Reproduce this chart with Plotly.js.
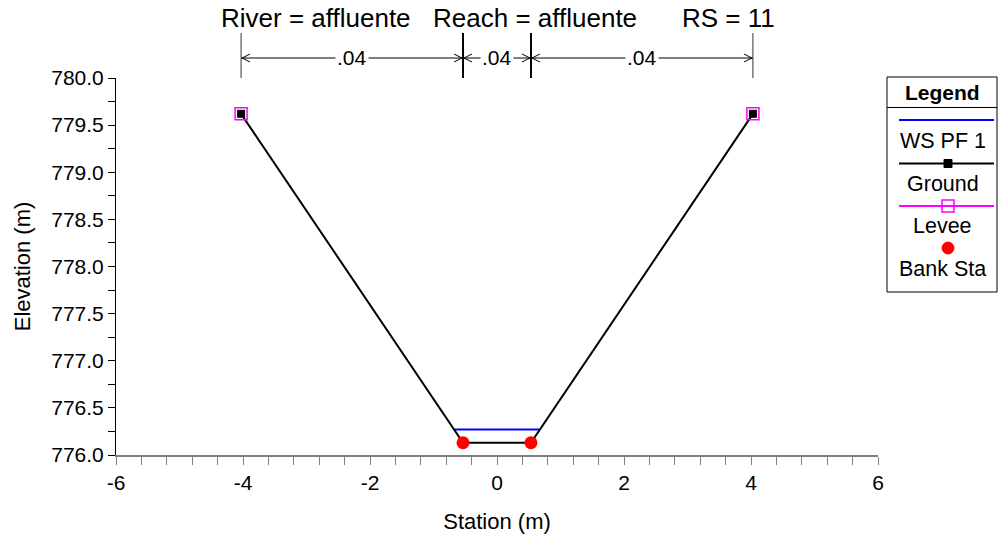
<!DOCTYPE html>
<html>
<head>
<meta charset="utf-8">
<script src="https://cdn.plot.ly/plotly-3.0.1.min.js"></script>
<style>html,body{margin:0;padding:0;background:#fff;}#chart{width:999px;height:535px;}</style>
</head>
<body>
<div id="chart"></div>
<script>
// ---- data ----
const titleParts = ['River = affluente', 'Reach = affluente', 'RS = 11'];
const wsX = [-0.67, 0.67];
const wsY = [776.27, 776.27];
const groundX = [-4.03, -0.535, 0.535, 4.03];
const groundY = [779.62, 776.13, 776.13, 779.62];
const leveeX = [-4.03, 4.03];
const leveeY = [779.62, 779.62];
const bankX = [-0.535, 0.535];
const bankY = [776.13, 776.13];
const nStations = [-4.03, -0.535, 0.535, 4.03];
const nValues = ['.04', '.04', '.04'];
const legendNames = ['WS PF 1', 'Ground', 'Levee', 'Bank Sta'];
const xTickVals = [-6, -4, -2, 0, 2, 4, 6];
const xTickText = ['-6', '-4', '-2', '0', '2', '4', '6'];
const xTitle = 'Station (m)';
const yTitle = 'Elevation (m)';

// ---- layout helpers ----
const W = 999, H = 535;
const M = {l: 116, r: 121, t: 78, b: 80};
const pw = W - M.l - M.r, ph = H - M.t - M.b;
const px = x => (x - M.l) / pw;
const py = y => (H - M.b - y) / ph;
const FONT = 'Arial, "Liberation Sans", sans-serif';

const traces = [
  {x: wsX, y: wsY, mode: 'lines', name: legendNames[0], line: {color: '#0000ff', width: 2}},
  {x: groundX, y: groundY, mode: 'lines+markers', name: legendNames[1], line: {color: '#000', width: 2},
   marker: {symbol: 'square', size: 8, color: '#000'}},
  {x: leveeX, y: leveeY, mode: 'markers', name: legendNames[2],
   marker: {symbol: 'square-open', size: 12, color: '#ff00ff', line: {width: 1.5}}},
  {x: bankX, y: bankY, mode: 'markers', name: legendNames[3],
   marker: {symbol: 'circle', size: 13, color: '#ff0000'}}
];

const shapes = [];
const annotations = [];

// title parts
const titleCenters = [316, 535, 728];
titleParts.forEach((t, i) => annotations.push({
  xref: 'paper', yref: 'paper', x: px(titleCenters[i]), y: py(18), text: t, showarrow: false,
  xanchor: 'center', yanchor: 'middle', font: {family: FONT, size: 26, color: '#000'}
}));

// roughness row
const arrowY = py(58);
nStations.forEach((s, i) => {
  const bank = (i > 0 && i < nStations.length - 1);
  shapes.push({type: 'line', xref: 'x', yref: 'paper', x0: s, x1: s, y0: py(78), y1: py(33),
    line: {color: bank ? '#000' : '#333', width: bank ? 2 : 1}});
});
nValues.forEach((v, i) => {
  const a = nStations[i], b = nStations[i + 1];
  shapes.push({type: 'line', xref: 'x', yref: 'paper', x0: a, x1: b, y0: arrowY, y1: arrowY,
    line: {color: '#000', width: 1}});
  shapes.push({type: 'path', xref: 'x', yref: 'paper', xsizemode: 'pixel', ysizemode: 'pixel',
    xanchor: a, yanchor: arrowY, path: 'M9,-4 L1,0 L9,4', line: {color: '#000', width: 1}});
  shapes.push({type: 'path', xref: 'x', yref: 'paper', xsizemode: 'pixel', ysizemode: 'pixel',
    xanchor: b, yanchor: arrowY, path: 'M-9,-4 L-1,0 L-9,4', line: {color: '#000', width: 1}});
  annotations.push({xref: 'x', yref: 'paper', x: (a + b) / 2, y: arrowY, text: v, showarrow: false,
    xanchor: 'center', yanchor: 'middle', bgcolor: '#fff', borderpad: 1,
    font: {family: FONT, size: 21, color: '#000'}});
});

// custom legend
const LX0 = 887, LX1 = 997, LT = 77, LB = 292;
const LC = (LX0 + LX1) / 2 + 1;
shapes.push({type: 'rect', xref: 'paper', yref: 'paper', x0: px(LX0), x1: px(LX1), y0: py(LB), y1: py(LT),
  line: {color: '#000', width: 1}, fillcolor: 'rgba(0,0,0,0)'});
shapes.push({type: 'line', xref: 'paper', yref: 'paper', x0: px(LX0), x1: px(LX1), y0: py(107.5), y1: py(107.5),
  line: {color: '#000', width: 1}});
annotations.push({xref: 'paper', yref: 'paper', x: px(LC), y: py(92), text: '<b>Legend</b>', showarrow: false,
  xanchor: 'center', yanchor: 'middle', font: {family: FONT, size: 21, color: '#000'}});
const sampleY = [120, 163.5, 206, 248];
const labelY = [141, 184, 226, 269];
const sampleColors = ['#0000ff', '#000', '#ff00ff', null];
sampleY.forEach((yy, i) => {
  if (sampleColors[i]) {
    shapes.push({type: 'line', xref: 'paper', yref: 'paper', x0: px(899), x1: px(994), y0: py(yy), y1: py(yy),
      line: {color: sampleColors[i], width: 2}});
  }
  annotations.push({xref: 'paper', yref: 'paper', x: px(LC), y: py(labelY[i]), text: legendNames[i], showarrow: false,
    xanchor: 'center', yanchor: 'middle', font: {family: FONT, size: 21.5, color: '#000'}});
});
const mk = (yy, half, opts) => Object.assign({xref: 'paper', yref: 'paper', xsizemode: 'pixel', ysizemode: 'pixel',
  xanchor: px(948), yanchor: py(yy), x0: -half, x1: half, y0: -half, y1: half}, opts);
shapes.push(mk(sampleY[1], 4, {type: 'rect', fillcolor: '#000', line: {color: '#000', width: 1}}));
shapes.push(mk(sampleY[2], 6, {type: 'rect', fillcolor: 'rgba(0,0,0,0)', line: {color: '#ff00ff', width: 1.5}}));
shapes.push(mk(sampleY[3], 6, {type: 'circle', fillcolor: '#ff0000', line: {color: '#ff0000', width: 1}}));

const layout = {
  width: W, height: H,
  margin: M,
  paper_bgcolor: '#fff', plot_bgcolor: '#fff',
  showlegend: false,
  font: {family: FONT, size: 21, color: '#000'},
  xaxis: {
    range: [-6, 6], tickmode: 'array', tickvals: xTickVals, ticktext: xTickText,
    showgrid: false, zeroline: false,
    showline: true, linecolor: '#808080', linewidth: 2,
    ticks: 'outside', ticklen: 8, tickcolor: '#808080', tickwidth: 1,
    minor: {dtick: 0.4, tick0: 0, ticks: 'outside', ticklen: 8, tickcolor: '#808080', showgrid: false},
    tickfont: {family: FONT, size: 21},
    title: {text: xTitle, font: {family: FONT, size: 22}, standoff: 20},
    automargin: false
  },
  yaxis: {
    range: [776, 780], dtick: 0.5, tick0: 776, tickformat: '.1f', showgrid: false, zeroline: false,
    showline: true, linecolor: '#000', linewidth: 1,
    ticks: 'outside', ticklen: 7, tickcolor: '#000', tickwidth: 1,
    minor: {dtick: 0.25, tick0: 776, ticks: 'outside', ticklen: 7, tickcolor: '#000', showgrid: false},
    tickfont: {family: FONT, size: 21},
    title: {text: yTitle, font: {family: FONT, size: 22}, standoff: 14},
    automargin: false
  },
  shapes: shapes,
  annotations: annotations
};

Plotly.newPlot('chart', traces, layout, {displayModeBar: false, staticPlot: true});
</script>
</body>
</html>
